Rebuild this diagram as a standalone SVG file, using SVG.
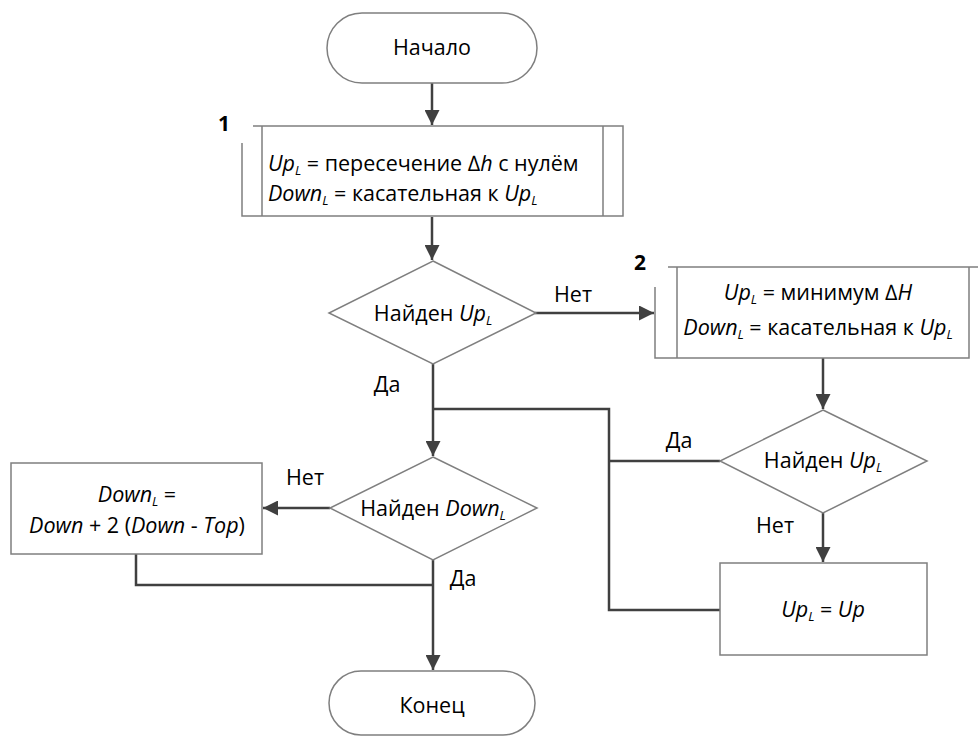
<svg xmlns="http://www.w3.org/2000/svg" width="978" height="736" viewBox="0 0 978 736">
<style>
.sh{fill:#fff;stroke:#7f7f7f;stroke-width:1.5}
.ln{fill:none;stroke:#7f7f7f;stroke-width:1.5}
.cn{fill:none;stroke:#404040;stroke-width:2.5}
text{font-family:"Open Sans","Noto Sans","DejaVu Sans",sans-serif;font-size:21.5px;fill:#000}
.c{text-anchor:middle}
.i{font-style:italic}
.s{font-style:italic;font-size:13px}
.num{font-weight:bold;font-size:21px}
</style>
<defs>
<marker id="ah" viewBox="0 0 10 10" refX="10" refY="5" markerWidth="6" markerHeight="6" markerUnits="strokeWidth" orient="auto">
<path d="M0,0 L10,5 L0,10 z" fill="#404040"/>
</marker>
</defs>
<g id="connectors">
<path class="cn" d="M432,83 V125" marker-end="url(#ah)"/>
<path class="cn" d="M432,217 V260" marker-end="url(#ah)"/>
<path class="cn" d="M535,313 H654" marker-end="url(#ah)"/>
<path class="cn" d="M433,363 V456" marker-end="url(#ah)"/>
<path class="cn" d="M433,409 H609 V610 H720"/>
<path class="cn" d="M609,461 H720"/>
<path class="cn" d="M823,358 V409" marker-end="url(#ah)"/>
<path class="cn" d="M823,513 V562" marker-end="url(#ah)"/>
<path class="cn" d="M330,508 H263" marker-end="url(#ah)"/>
<path class="cn" d="M136,554 V585 H433"/>
<path class="cn" d="M433,560 V670" marker-end="url(#ah)"/>
</g>
<g id="labels">
<text x="573" y="302" class="c">Нет</text>
<text x="387" y="392" class="c">Да</text>
<text x="679" y="448" class="c">Да</text>
<text x="775" y="533" class="c">Нет</text>
<text x="305" y="485" class="c">Нет</text>
<text x="463" y="586" class="c">Да</text>
</g>
<g id="start">
<rect class="sh" x="327" y="13" width="210" height="70" rx="35"/>
<text x="432" y="55" class="c">Начало</text>
</g>
<g id="proc1">
<text x="224" y="131" class="num c">1</text>
<rect x="242" y="126" width="381" height="90" fill="#fff" stroke="none"/>
<path class="ln" d="M253,126 H623 V216 H242 V143 M262,126 V216 M603,126 V216"/>
<text x="268" y="171"><tspan class="i">Up</tspan><tspan class="s" dy="4">L</tspan><tspan dy="-4"> = пересечение ∆</tspan><tspan class="i">h</tspan> с нулём</text>
<text x="268" y="201"><tspan class="i">Down</tspan><tspan class="s" dy="4">L</tspan><tspan dy="-4"> = касательная к </tspan><tspan class="i">Up</tspan><tspan class="s" dy="4">L</tspan></text>
</g>
<g id="dec1">
<polygon class="sh" points="433,261 536,313 433,364 329,313"/>
<text x="433" y="321" class="c">Найден <tspan class="i">Up</tspan><tspan class="s" dy="4">L</tspan></text>
</g>
<g id="proc2">
<text x="640" y="270" class="num c">2</text>
<rect x="655" y="267" width="323" height="91" fill="#fff" stroke="none"/>
<path class="ln" d="M668,267 H978 M969,267 V358 H655 V287 M677,267 V358"/>
<text x="818" y="300" class="c"><tspan class="i">Up</tspan><tspan class="s" dy="4">L</tspan><tspan dy="-4"> = минимум ∆</tspan><tspan class="i">H</tspan></text>
<text x="818" y="335" class="c"><tspan class="i">Down</tspan><tspan class="s" dy="4">L</tspan><tspan dy="-4"> = касательная к </tspan><tspan class="i">Up</tspan><tspan class="s" dy="4">L</tspan></text>
</g>
<g id="dec3">
<polygon class="sh" points="823,410 927,461 823,513 720,461"/>
<text x="823" y="468" class="c">Найден <tspan class="i">Up</tspan><tspan class="s" dy="4">L</tspan></text>
</g>
<g id="proc3">
<rect class="sh" x="720" y="563" width="207" height="92"/>
<text x="823" y="617" class="c"><tspan class="i">Up</tspan><tspan class="s" dy="4">L</tspan><tspan dy="-4"> = </tspan><tspan class="i">Up</tspan></text>
</g>
<g id="dec2">
<polygon class="sh" points="433,457 537,508 433,560 330,508"/>
<text x="433" y="516" class="c">Найден <tspan class="i">Down</tspan><tspan class="s" dy="4">L</tspan></text>
</g>
<g id="proc4">
<rect class="sh" x="11" y="463" width="251" height="91"/>
<text x="137" y="502" class="c"><tspan class="i">Down</tspan><tspan class="s" dy="4">L</tspan><tspan dy="-4"> =</tspan></text>
<text x="137" y="533" class="c"><tspan class="i">Down</tspan> + 2 (<tspan class="i">Down</tspan> - <tspan class="i">Top</tspan>)</text>
</g>
<g id="end">
<rect class="sh" x="329" y="671" width="206" height="64" rx="32"/>
<text x="432" y="713" class="c">Конец</text>
</g>
</svg>
